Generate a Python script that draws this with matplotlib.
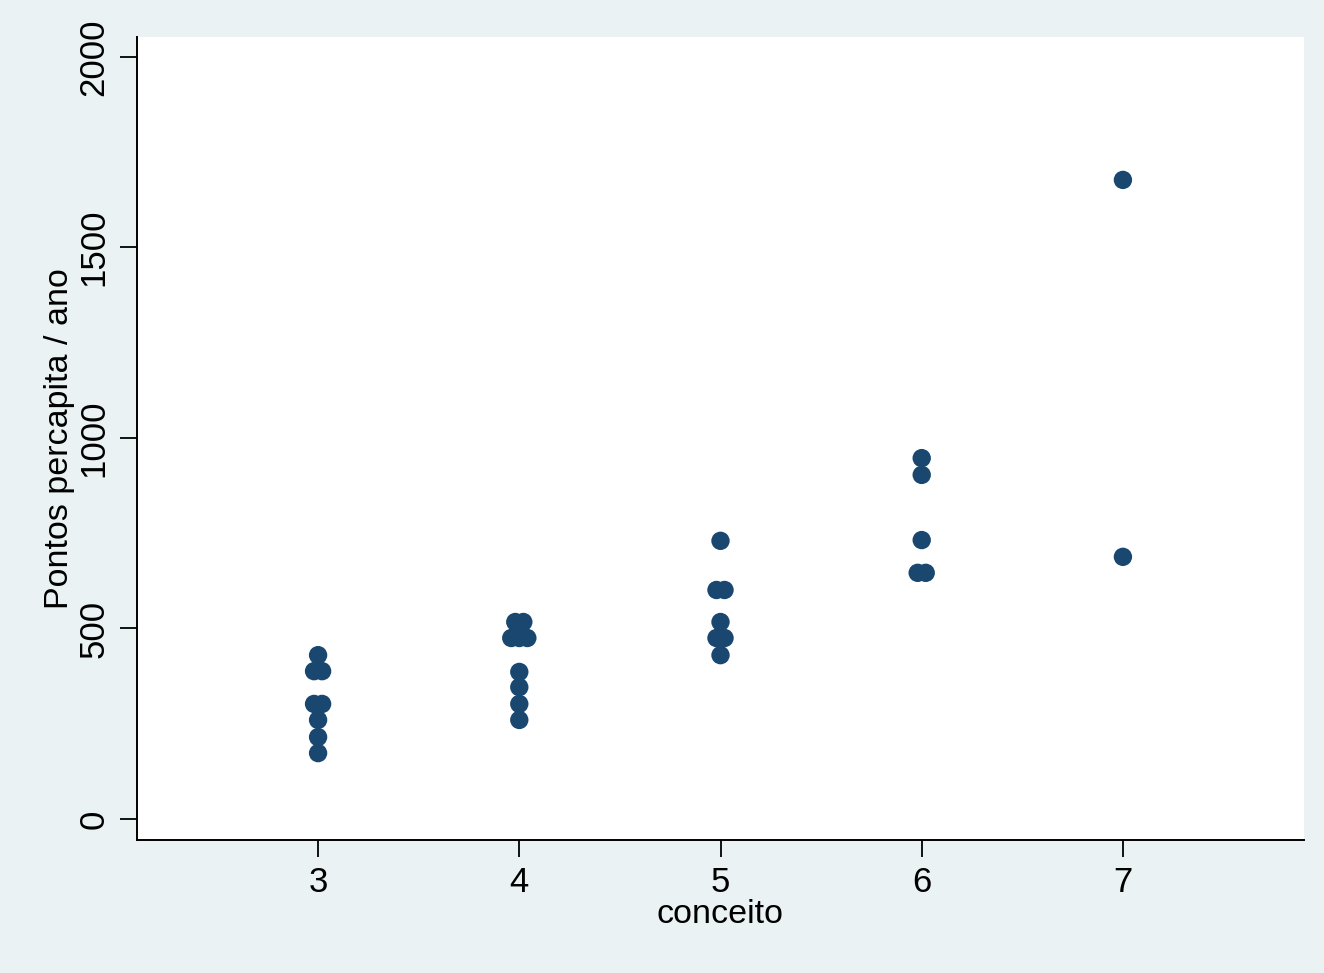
import matplotlib
matplotlib.use("Agg")
import matplotlib.pyplot as plt

# conceito (with the small horizontal jitter seen in the picture)
conceito = [2.98, 3.00, 3.02, 2.98, 3.02, 3.00, 3.00, 3.00,
            3.98, 4.02, 3.96, 4.00, 4.04, 4.00, 4.00, 4.00, 4.00,
            5.00, 4.98, 5.02, 5.00, 4.98, 5.02, 5.00,
            6.00, 6.00, 6.00, 5.98, 6.02,
            7.00, 7.00]
pontos = [388, 430, 388, 302, 302, 260, 215, 173,
          517, 517, 475, 475, 475, 386, 346, 302, 260,
          730, 601, 601, 517, 475, 475, 430,
          947, 903, 732, 646, 646,
          1677, 688]

XTICKS = [3, 4, 5, 6, 7]
YTICKS = [0, 500, 1000, 1500, 2000]

plt.rcParams["font.family"] = ["Liberation Sans", "DejaVu Sans"]

fig = plt.figure(figsize=(13.24, 9.73), dpi=100, facecolor="#EAF2F3")
ax = fig.add_axes([137 / 1324, 1 - 840 / 973, (1304 - 137) / 1324, (840 - 37) / 973])
ax.set_facecolor("white")

ax.scatter(conceito, pontos, s=175, color="#1A476F", edgecolors="none", zorder=3)

ax.set_xlim(2.1, 7.9)
ax.set_ylim(-55, 2052)
ax.set_xticks(XTICKS)
ax.set_yticks(YTICKS)
ax.tick_params(axis="both", direction="out", length=12, width=1.3, labelsize=25, pad=7)
for lab in ax.get_yticklabels():
    lab.set_rotation(90)
    lab.set_va("center")

for side in ("top", "right"):
    ax.spines[side].set_visible(False)
for side in ("left", "bottom"):
    ax.spines[side].set_linewidth(1.4)

ax.set_xlabel("conceito", fontsize=24.5, labelpad=0)
ax.set_ylabel("Pontos percapita / ano", fontsize=24.5, labelpad=2)

fig.savefig("out.png", dpi=100, facecolor=fig.get_facecolor())
